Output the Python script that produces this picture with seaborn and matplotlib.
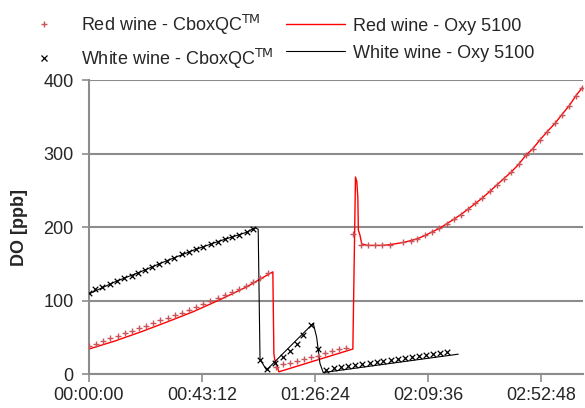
import matplotlib
matplotlib.use("Agg")
import matplotlib.pyplot as plt
from matplotlib.lines import Line2D
from matplotlib.ticker import FixedLocator, FuncFormatter
import pandas as pd
import seaborn as sns

# Temps en minutes, OD en ppb
red_cbox_t = [0, 2.75, 5.47, 8.22, 10.94, 13.69, 16.40, 19.11, 21.87, 24.58, 27.33, 30.05, 32.80,
              35.51, 38.23, 40.98, 43.69, 46.44, 49.16, 51.91, 54.62, 57.34, 60.09, 62.80, 65.55, 68.27,
              71.5, 74.2, 76.9, 79.6, 82.2, 84.9, 87.6, 90.3, 93.0, 95.6, 98.3,
              101.0,
              103.87, 106.55, 109.34, 112.13, 115.07, 120.16, 122.99, 125.51, 128.46, 131.02, 133.92,
              136.75, 139.54, 142.22, 145.01, 147.69, 150.44, 153.31, 155.98, 158.66, 161.45, 164.28,
              167.07, 169.63, 172.42, 175.21, 178.15, 180.71, 183.62, 186.18, 188.36]
red_cbox_do = [38, 41.5, 45, 48.5, 52, 55.5, 59, 62.5, 66, 69.5, 73, 76.5, 80,
               83.5, 87, 91, 95, 99, 103, 107, 111, 115.5, 120, 125, 131, 137,
               9, 13, 15.5, 18, 20, 22.5, 25, 28, 31, 33.5, 36,
               190,
               175.5, 175, 175, 175, 176, 179, 181.5, 184, 188.5, 193, 198,
               204.5, 210.5, 217, 224.5, 232, 239.5, 248.5, 257.5, 266, 275, 285.3,
               297.9, 306.1, 318.4, 329.7, 341.1, 352.4, 365.0, 378.6, 388.7]

red_oxy_t = [0, 10, 20, 30, 40, 50, 60, 70.3, 70.7, 71.0, 71.8, 72.6, 100.9, 101.9, 102.4, 102.8,
             103.0, 103.6, 104.3, 106.5, 109.3, 112.1, 115.1, 120.2, 123.0, 125.5, 128.5, 131.0, 133.9,
             136.8, 139.5, 142.2, 145.0, 147.7, 150.4, 153.3, 156.0, 158.7, 161.5, 164.3, 167.1, 169.6,
             172.4, 175.2, 178.2, 180.7, 183.6, 186.2, 188.9]
red_oxy_do = [34, 45, 57.5, 71, 85, 101, 118, 139, 28, 20, 12, 3, 34, 268, 262, 240,
              196, 189, 177, 175, 175, 175, 176, 179, 181.5, 184, 188.5, 193, 198,
              204.5, 210.5, 217, 224.5, 232, 239.5, 248.5, 257.5, 266, 275, 285.3, 297.9, 306.1,
              318.4, 329.7, 341.1, 352.4, 365.0, 378.6, 391]

white_cbox_t = [0, 2.29, 5.08, 8.03, 10.82, 13.5, 16.32, 18.85, 21.41, 24.2, 26.95, 29.74, 32.5,
                35.44, 38.23, 40.91, 43.7, 46.53, 49.2, 52.0, 54.55, 57.34, 60.29, 62.81,
                65.37, 67.94, 71.11, 74.28, 76.84, 79.4, 81.93, 84.87, 87.66,
                90.7, 93.66, 96.22, 99.13, 101.69, 104.48, 107.43, 109.99, 112.51, 115.34, 118.01,
                120.81, 123.37, 126.16, 128.84, 131.63, 134.19, 136.75]
white_cbox_do = [109.8, 115.2, 118.8, 122.4, 127, 130.2, 133.7, 137.8, 141.5, 145.7, 149.9, 154.1, 158.3,
                 162.9, 166.4, 169.7, 172.4, 176.5, 180, 183.3, 186, 189.1, 192.8, 197.3,
                 19, 6.4, 15.4, 23.6, 31.7, 40.4, 53, 66.7, 33.6,
                 6, 8.6, 9.9, 10.9, 12.2, 13.2, 15.4, 16.7, 18.1, 19, 20.4,
                 21.3, 22.7, 24.5, 25.9, 27.2, 28.1, 29.5]

white_oxy_t = [0, 10, 20, 30, 40, 50, 60, 63.5, 64.7, 65.4, 67.9, 85.75, 87.05, 87.66, 88.31, 89.57, 141.2]
white_oxy_do = [109, 125.5, 139.5, 154.5, 168.5, 181, 192.5, 199, 197, 20, 5.5, 69, 50, 33, 14.5, 2, 27]

x_ticks = [0, 43.2, 86.4, 129.6, 172.8]
y_ticks = [0, 100, 200, 300, 400]

sns.set_style("white")
plt.rcParams['font.family'] = ['Liberation Sans', 'DejaVu Sans']

gris = '#8c8c8c'
rouge_pt = '#c9545a'

fig = plt.figure(figsize=(5.85, 4.08), dpi=100)
ax = fig.add_axes([0.1521, 0.0833, 0.8445, 0.7206])

sns.lineplot(x=red_oxy_t, y=red_oxy_do, sort=False, estimator=None, color='#ff0000', lw=1.0, ax=ax)
sns.lineplot(x=white_oxy_t, y=white_oxy_do, sort=False, estimator=None, color='black', lw=0.8, ax=ax)
sns.scatterplot(x=red_cbox_t, y=red_cbox_do, marker='+', color=rouge_pt, s=22, linewidth=1.0, ax=ax, zorder=3)
sns.scatterplot(x=white_cbox_t, y=white_cbox_do, marker='x', color='black', s=16, linewidth=0.9, ax=ax, zorder=3)

ax.set_xlim(0, 188.9)
ax.set_ylim(0, 400)
ax.xaxis.set_major_locator(FixedLocator(x_ticks))
ax.yaxis.set_major_locator(FixedLocator(y_ticks))


def hms(v, pos):
    s = int(round(v * 60))
    return '%02d:%02d:%02d' % (s // 3600, (s % 3600) // 60, s % 60)


ax.xaxis.set_major_formatter(FuncFormatter(hms))
ax.yaxis.grid(True, color=gris, lw=1.5)
ax.set_axisbelow(True)
for side in ['top', 'right']:
    ax.spines[side].set_visible(False)
for side in ['left', 'bottom']:
    ax.spines[side].set_color(gris)
    ax.spines[side].set_linewidth(1.5)
ax.tick_params(axis='x', direction='out', length=6, width=1.2, color=gris, labelsize=13, pad=3, bottom=True)
ax.tick_params(axis='y', direction='out', length=5, width=1.2, color=gris, labelsize=13, pad=6, left=True)

ax.set_xlabel('')
ax.set_ylabel('DO [ppb]', fontsize=13, fontweight='bold')
ax.yaxis.set_label_coords(-0.123, 0.5)

handles = [
    Line2D([], [], ls='none', marker='+', color=rouge_pt, markersize=5, markeredgewidth=1.0),
    Line2D([], [], ls='none', marker='x', color='black', markersize=4.5, markeredgewidth=0.9),
    Line2D([], [], color='#ff0000', lw=1.0),
    Line2D([], [], color='black', lw=0.8),
]
labels = ['Red wine - CboxQC$^{\\mathrm{TM}}$', 'White wine - CboxQC$^{\\mathrm{TM}}$',
          'Red wine - Oxy 5100', 'White wine - Oxy 5100']
fig.legend(handles, labels, loc='upper left', bbox_to_anchor=(0.002, 1.0), ncol=2, frameon=False,
           fontsize=13, handlelength=3.3, handletextpad=0.4, columnspacing=0.69, labelspacing=0.55,
           borderpad=0.2)

fig.savefig('out.png', dpi=100)
